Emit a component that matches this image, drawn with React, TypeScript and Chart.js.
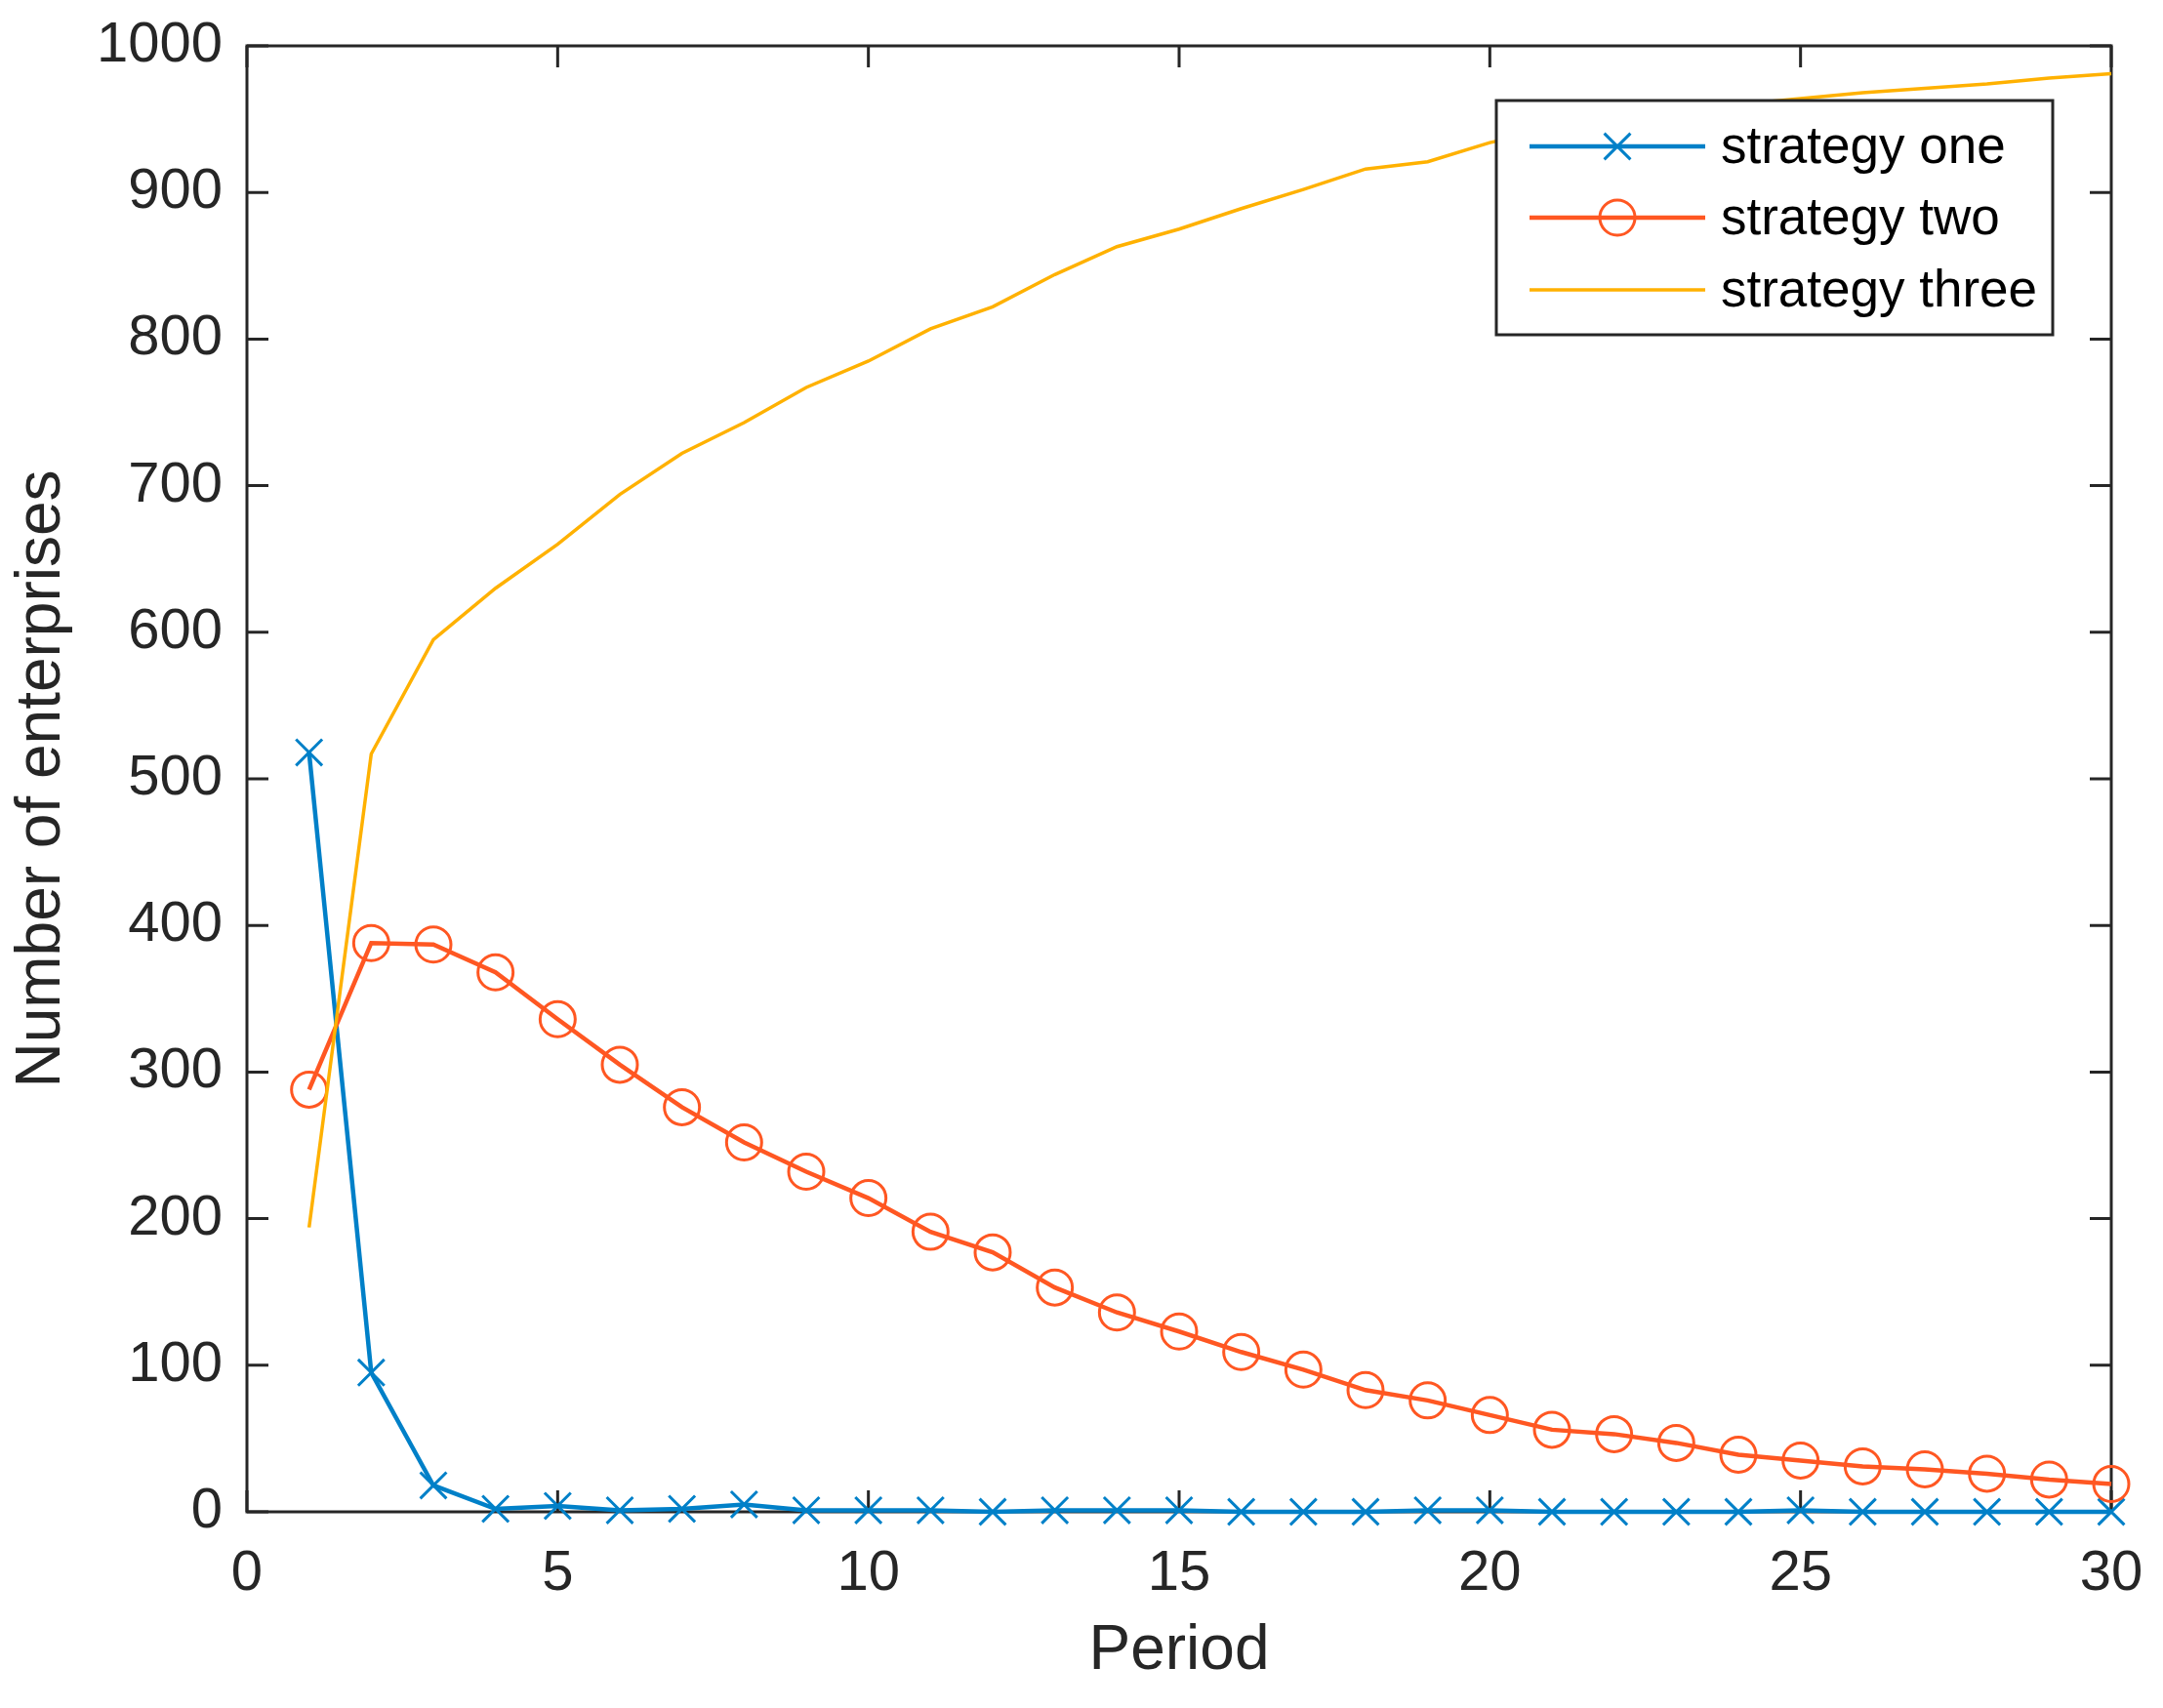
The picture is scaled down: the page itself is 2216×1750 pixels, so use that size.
import { useEffect, useRef } from 'react';
import { Chart, registerables } from 'chart.js';

Chart.register(...registerables);

const periods = [1, 2, 3, 4, 5, 6, 7, 8, 9, 10, 11, 12, 13, 14, 15, 16, 17, 18, 19, 20, 21, 22, 23, 24, 25, 26, 27, 28, 29, 30];
const strategyOne = [518, 95, 18, 2, 4, 1, 2, 5, 1, 1, 1, 0, 1, 1, 1, 0, 0, 0, 1, 1, 0, 0, 0, 0, 1, 0, 0, 0, 0, 0];
const strategyTwo = [288, 388, 387, 368, 336, 305, 276, 252, 232, 214, 191, 177, 153, 136, 123, 109, 97, 83, 76, 66, 56, 53, 47, 39, 35, 31, 29, 26, 22, 19];
const strategyThree = [194, 517, 595, 630, 660, 694, 722, 743, 767, 785, 807, 822, 844, 863, 875, 889, 902, 916, 921, 934, 943, 947, 953, 960, 964, 968, 971, 974, 978, 981];
const seriesNames = ['strategy one', 'strategy two', 'strategy three'];
const xTicks = [0, 5, 10, 15, 20, 25, 30];
const yTicks = [0, 100, 200, 300, 400, 500, 600, 700, 800, 900, 1000];

const BLUE = '#0080c8';
const ORANGE = '#ff5722';
const YELLOW = '#ffb100';
const AXIS = '#262626';
const FONT = "'Liberation Sans', Arial, sans-serif";

// box, inward ticks on all sides, MATLAB-like legend
const matlabFrame = {
  id: 'matlabFrame',
  beforeDatasetsDraw(chart: any) {
    const { ctx, chartArea: a, scales } = chart;
    const len = 22;
    ctx.save();
    ctx.strokeStyle = AXIS;
    ctx.lineWidth = 3;
    ctx.strokeRect(a.left, a.top, a.right - a.left, a.bottom - a.top);
    ctx.beginPath();
    xTicks.forEach((v) => {
      const px = scales.x.getPixelForValue(v);
      ctx.moveTo(px, a.bottom);
      ctx.lineTo(px, a.bottom - len);
      ctx.moveTo(px, a.top);
      ctx.lineTo(px, a.top + len);
    });
    yTicks.forEach((v) => {
      const py = scales.y.getPixelForValue(v);
      ctx.moveTo(a.left, py);
      ctx.lineTo(a.left + len, py);
      ctx.moveTo(a.right, py);
      ctx.lineTo(a.right - len, py);
    });
    ctx.stroke();
    ctx.restore();
  },
  afterDraw(chart: any) {
    const { ctx } = chart;
    const box = { left: 1533, top: 103, right: 2103, bottom: 343 };
    const rows = [150, 223, 297];
    ctx.save();
    ctx.fillStyle = '#ffffff';
    ctx.fillRect(box.left, box.top, box.right - box.left, box.bottom - box.top);
    ctx.strokeStyle = AXIS;
    ctx.lineWidth = 3;
    ctx.strokeRect(box.left, box.top, box.right - box.left, box.bottom - box.top);
    chart.data.datasets.forEach((ds: any, i: number) => {
      const y = rows[i];
      ctx.strokeStyle = ds.borderColor;
      ctx.lineWidth = ds.borderWidth;
      ctx.beginPath();
      ctx.moveTo(1567, y);
      ctx.lineTo(1747, y);
      ctx.stroke();
      const cx = 1657;
      ctx.lineWidth = ds.pointBorderWidth;
      if (ds.pointStyle === 'crossRot') {
        const r = ds.pointRadius * 0.707;
        ctx.beginPath();
        ctx.moveTo(cx - r, y - r);
        ctx.lineTo(cx + r, y + r);
        ctx.moveTo(cx - r, y + r);
        ctx.lineTo(cx + r, y - r);
        ctx.stroke();
      } else if (ds.pointStyle === 'circle' && ds.pointRadius > 0) {
        ctx.beginPath();
        ctx.arc(cx, y, ds.pointRadius, 0, Math.PI * 2);
        ctx.stroke();
      }
      ctx.fillStyle = '#000000';
      ctx.font = `53px ${FONT}`;
      ctx.textAlign = 'left';
      ctx.textBaseline = 'middle';
      ctx.fillText(ds.label, 1763, y + 2);
    });
    ctx.restore();
  },
};

export default function App() {
  const canvasRef = useRef<HTMLCanvasElement>(null);
  const chartRef = useRef<Chart | null>(null);

  useEffect(() => {
    if (!canvasRef.current) return;
    if (chartRef.current) chartRef.current.destroy();
    const ctx = canvasRef.current.getContext('2d');
    if (!ctx) return;

    chartRef.current = new Chart(ctx, {
      type: 'line',
      data: {
        labels: periods,
        datasets: [
          {
            label: seriesNames[0],
            data: periods.map((p, i) => ({ x: p, y: strategyOne[i] })),
            borderColor: BLUE,
            borderWidth: 4.5,
            pointStyle: 'crossRot',
            pointRadius: 19,
            pointBorderWidth: 3,
            pointBorderColor: BLUE,
            pointBackgroundColor: 'rgba(0,0,0,0)',
            clip: false,
            order: 3,
          },
          {
            label: seriesNames[1],
            data: periods.map((p, i) => ({ x: p, y: strategyTwo[i] })),
            borderColor: ORANGE,
            borderWidth: 4.5,
            pointStyle: 'circle',
            pointRadius: 18,
            pointBorderWidth: 3,
            pointBorderColor: ORANGE,
            pointBackgroundColor: 'rgba(0,0,0,0)',
            clip: false,
            order: 2,
          },
          {
            label: seriesNames[2],
            data: periods.map((p, i) => ({ x: p, y: strategyThree[i] })),
            borderColor: YELLOW,
            borderWidth: 3.5,
            pointStyle: 'circle',
            pointRadius: 0,
            pointBorderWidth: 0,
            clip: false,
            order: 1,
          },
        ] as any,
      },
      options: {
        animation: false,
        responsive: false,
        devicePixelRatio: 1,
        layout: { padding: { top: 47, right: 53, left: 0, bottom: 0 } },
        plugins: {
          legend: { display: false },
          tooltip: { enabled: false },
        },
        elements: { line: { tension: 0 } },
        scales: {
          x: {
            type: 'linear',
            min: 0,
            max: 30,
            afterFit: (scale: any) => {
              scale.height = 201;
              scale.paddingLeft = 0;
              scale.paddingRight = 0;
            },
            afterBuildTicks: (scale: any) => {
              scale.ticks = xTicks.map((v) => ({ value: v }));
            },
            grid: { display: false, drawTicks: false },
            border: { display: false },
            ticks: {
              color: AXIS,
              font: { family: FONT, size: 58 },
              padding: 29,
              maxRotation: 0,
              callback: (v: any) => String(v),
            },
            title: {
              display: true,
              text: 'Period',
              color: AXIS,
              font: { family: FONT, size: 64 },
              padding: { top: 0, bottom: 19 },
            },
          },
          y: {
            type: 'linear',
            min: 0,
            max: 1000,
            afterFit: (scale: any) => {
              scale.width = 253;
              scale.paddingTop = 0;
              scale.paddingBottom = 0;
            },
            afterBuildTicks: (scale: any) => {
              scale.ticks = yTicks.map((v) => ({ value: v }));
            },
            grid: { display: false, drawTicks: false },
            border: { display: false },
            ticks: {
              color: AXIS,
              font: { family: FONT, size: 58 },
              padding: 25,
              callback: (v: any) => String(v),
            },
            title: {
              display: true,
              text: 'Number of enterprises',
              color: AXIS,
              font: { family: FONT, size: 64 },
              padding: { top: 5, bottom: 0 },
            },
          },
        },
      },
      plugins: [matlabFrame],
    } as any);

    return () => {
      if (chartRef.current) {
        chartRef.current.destroy();
        chartRef.current = null;
      }
    };
  }, []);

  return (
    <div style={{ position: 'fixed', left: 0, top: 0, width: 2216, height: 1750, background: '#fff' }}>
      <canvas ref={canvasRef} width={2216} height={1750} style={{ width: 2216, height: 1750 }} />
    </div>
  );
}
